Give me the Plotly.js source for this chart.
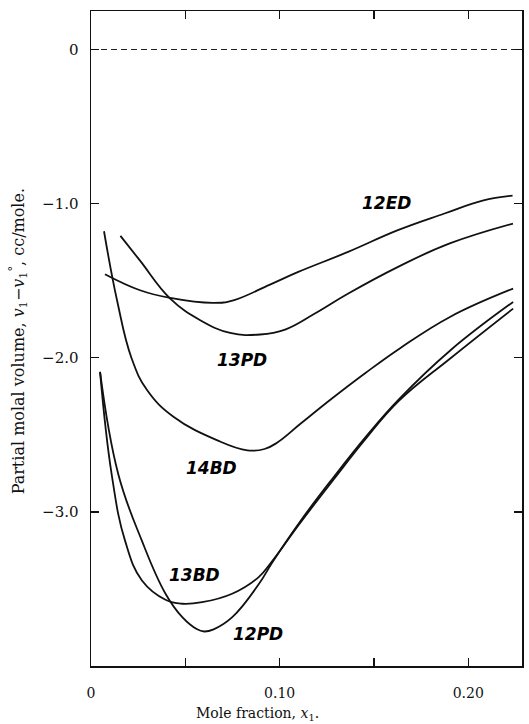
<!DOCTYPE html>
<html><head><meta charset="utf-8">
<script src="https://cdn.plot.ly/plotly-3.0.1.min.js"></script>
<style>html,body{margin:0;padding:0;background:#fff}#chart{width:529px;height:724px}</style>
</head><body><div id="chart"></div>
<script>
// Mole fraction x1 and partial molal volume v1 - v1° (cc/mole)
const x12ED = [0.0074, 0.026, 0.042, 0.0649, 0.0755, 0.0949, 0.1099, 0.1363, 0.1627, 0.1874, 0.2076, 0.2235];
const y12ED = [-1.458, -1.562, -1.612, -1.644, -1.627, -1.525, -1.443, -1.313, -1.172, -1.064, -0.980, -0.948];

const x13PD = [0.0156, 0.026, 0.042, 0.0579, 0.0738, 0.0897, 0.1029, 0.1187, 0.1364, 0.1628, 0.1902, 0.2237];
const y13PD = [-1.209, -1.37, -1.616, -1.756, -1.839, -1.849, -1.817, -1.713, -1.583, -1.410, -1.258, -1.129];

const x14BD = [0.0069, 0.0138, 0.0215, 0.0298, 0.0439, 0.0670, 0.0829, 0.0920, 0.0988, 0.1112, 0.1279, 0.1455, 0.1639, 0.1903, 0.2238];
const y14BD = [-1.179, -1.627, -2.003, -2.211, -2.384, -2.536, -2.601, -2.592, -2.550, -2.427, -2.263, -2.099, -1.938, -1.735, -1.551];

const x13BD = [0.0048, 0.0109, 0.0180, 0.0270, 0.0395, 0.0483, 0.0589, 0.0748, 0.0889, 0.0960, 0.1107, 0.1286, 0.1459, 0.1632, 0.1906, 0.2238];
const y13BD = [-2.092, -2.752, -3.185, -3.445, -3.570, -3.596, -3.586, -3.531, -3.423, -3.320, -3.075, -2.790, -2.522, -2.280, -2.003, -1.681];

const x12PD = [0.0048, 0.0144, 0.0269, 0.0395, 0.0484, 0.0560, 0.0600, 0.0650, 0.0749, 0.0889, 0.0960, 0.1107, 0.1286, 0.1459, 0.1632, 0.1906, 0.2238];
const y12PD = [-2.092, -2.752, -3.185, -3.531, -3.683, -3.760, -3.776, -3.762, -3.683, -3.470, -3.330, -3.065, -2.775, -2.510, -2.270, -1.951, -1.638];

const xZero = [0, 0.2285];
const yZero = [0, 0];

const curveNames = ['12ED', '13PD', '14BD', '13BD', '12PD'];
const labelX = [0.1567, 0.0799, 0.0640, 0.0551, 0.0887];
const labelY = [-0.999, -2.016, -2.712, -3.412, -3.791];

const yTickVals = [0, -1, -2, -3];
const yTickText = ['0', '\u22121.0', '\u22122.0', '\u22123.0'];

const xs = [x12ED, x13PD, x14BD, x13BD, x12PD];
const ys = [y12ED, y13PD, y14BD, y13BD, y12PD];

const traces = curveNames.map((n, i) => ({
  x: xs[i], y: ys[i], name: n, type: 'scatter', mode: 'lines',
  line: {color: '#111', width: 1.8, shape: 'spline', smoothing: 1.2},
  hoverinfo: 'skip'
}));
traces.unshift({
  x: xZero, y: yZero, type: 'scatter', mode: 'lines', name: 'zero',
  line: {color: '#222', width: 1.1, dash: '6px,4px'}, hoverinfo: 'skip'
});

const tickFont = {family: 'DejaVu Serif', size: 15, color: '#111'};
const labelFont = {family: 'DejaVu Sans', size: 17, color: '#000', weight: 'bold', style: 'italic'};

const annotations = curveNames.map((n, i) => ({
  x: labelX[i], y: labelY[i], xref: 'x', yref: 'y', text: n, showarrow: false,
  font: labelFont, xanchor: 'center', yanchor: 'middle'
}));
annotations.push({
  xref: 'paper', yref: 'paper', x: -0.168, y: 0.495, textangle: -90,
  text: 'Partial molal volume, <i>v</i><sub>1</sub>\u2212<i>v</i><sub>1</sub><sup>\u00b0</sup>, cc/mole.',
  showarrow: false, font: {family: 'DejaVu Serif', size: 16, color: '#111'},
  xanchor: 'center', yanchor: 'middle'
});
annotations.push({
  xref: 'paper', yref: 'paper', x: 0.387, y: -0.074,
  text: 'Mole fraction, <i>x</i><sub>1</sub>.',
  showarrow: false, font: {family: 'DejaVu Serif', size: 14, color: '#111'},
  xanchor: 'center', yanchor: 'middle'
});

const layout = {
  width: 529, height: 724,
  margin: {l: 91, r: 7, t: 11, b: 58},
  paper_bgcolor: '#fff', plot_bgcolor: '#fff',
  showlegend: false,
  xaxis: {
    range: [0, 0.2285], tickmode: 'linear', tick0: 0, dtick: 0.1,
    tickformat: '.2f', labelalias: {'0.00': '0'},
    ticks: 'inside', ticklen: 8, tickwidth: 1.3, tickcolor: '#111',
    minor: {dtick: 0.05, tick0: 0, ticks: 'inside', ticklen: 8, tickwidth: 1.3, tickcolor: '#111', showgrid: false},
    showline: true, linecolor: '#111', linewidth: 1.5, mirror: 'ticks',
    showgrid: false, zeroline: false, tickfont: {family: 'DejaVu Serif', size: 14, color: '#111'},
    ticklabelstandoff: 14, fixedrange: true
  },
  yaxis: {
    range: [-4.0, 0.25], tickvals: yTickVals, ticktext: yTickText,
    ticks: 'inside', ticklen: 8, tickwidth: 1.3, tickcolor: '#111',
    showline: true, linecolor: '#111', linewidth: 1.5, mirror: 'ticks',
    showgrid: false, zeroline: false, tickfont: tickFont, ticklabelstandoff: 8,
    fixedrange: true
  },
  annotations: annotations
};

Plotly.newPlot('chart', traces, layout, {displayModeBar: false, staticPlot: true});
</script>
</body></html>
